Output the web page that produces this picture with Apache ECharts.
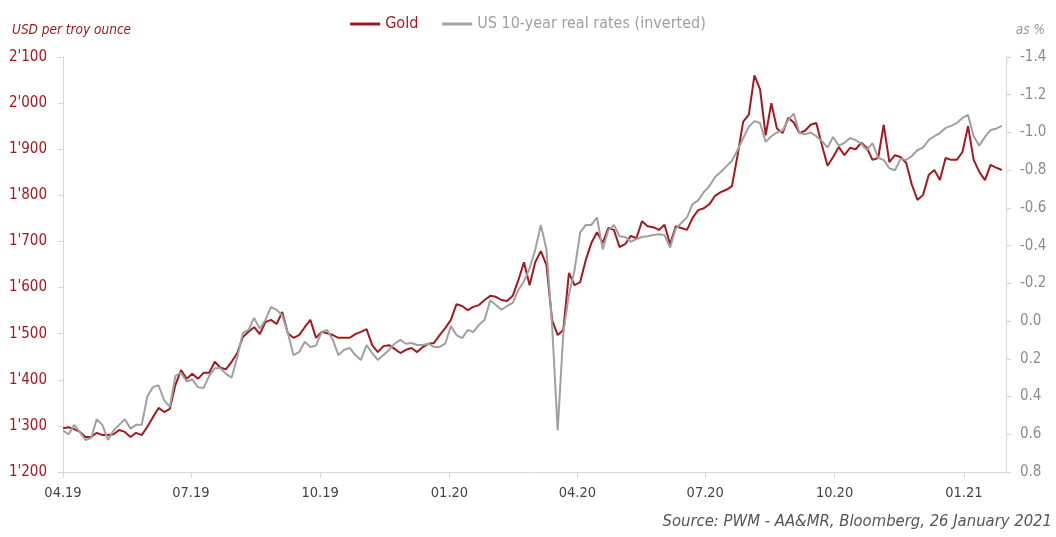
<!DOCTYPE html>
<html>
<head>
<meta charset="utf-8">
<script src="https://cdn.jsdelivr.net/npm/echarts@6/dist/echarts.min.js"></script>
<style>
  html, body { margin: 0; padding: 0; background: #fff; }
  #chart { width: 1056px; height: 537px; }
</style>
</head>
<body>
<div id="chart"></div>
<script>
// readings every 4 days from 1 April 2019
const startDate = [2019, 3, 1]
const stepDays = 4

const gold = [
  1295, 1297, 1293, 1287, 1276, 1276, 1285, 1280, 1280, 1282,
  1291, 1287, 1276, 1285, 1280, 1298, 1319, 1339, 1330, 1337,
  1389, 1421, 1402, 1413, 1402, 1415, 1415, 1439, 1426, 1423,
  1439, 1458, 1493, 1504, 1514, 1499, 1525, 1530, 1521, 1547,
  1501, 1491, 1497, 1514, 1530, 1491, 1504, 1501, 1497, 1491,
  1491, 1491, 1499, 1504, 1510, 1475, 1460, 1473, 1475, 1467,
  1458, 1465, 1469, 1460, 1471, 1478, 1480, 1497, 1512, 1530,
  1564, 1560, 1551, 1558, 1562, 1573, 1582, 1580, 1573, 1571,
  1582, 1616, 1655, 1605, 1655, 1679, 1649, 1530, 1497, 1508,
  1632, 1605, 1612, 1660, 1697, 1720, 1697, 1729, 1725, 1688,
  1694, 1712, 1707, 1744, 1733, 1731, 1725, 1736, 1694, 1733,
  1729, 1725, 1751, 1768, 1772, 1781, 1799, 1807, 1812, 1820,
  1887, 1960, 1975, 2060, 2030, 1930, 2000, 1945, 1935, 1968,
  1958, 1935, 1940, 1953, 1957, 1909, 1864, 1883, 1905, 1887,
  1903, 1900, 1914, 1903, 1877, 1881, 1953, 1872, 1887, 1883,
  1870, 1823, 1790, 1801, 1844, 1855, 1833, 1881, 1877, 1877,
  1894, 1950, 1877, 1851, 1833, 1866, 1860, 1855
]

const realRates = [
  0.58, 0.60, 0.55, 0.59, 0.63, 0.62, 0.52, 0.55, 0.63, 0.58,
  0.55, 0.52, 0.57, 0.55, 0.55, 0.40, 0.35, 0.34, 0.42, 0.455,
  0.29, 0.275, 0.32, 0.31, 0.35, 0.355, 0.29, 0.25, 0.25, 0.28,
  0.30, 0.19, 0.063, 0.047, -0.017, 0.04, -0.006, -0.075, -0.06, -0.03,
  0.063, 0.18, 0.165, 0.11, 0.137, 0.13, 0.058, 0.047, 0.10, 0.18,
  0.153, 0.142, 0.18, 0.206, 0.127, 0.17, 0.206, 0.18, 0.153, 0.12,
  0.10, 0.12, 0.116, 0.127, 0.127, 0.12, 0.137, 0.137, 0.12, 0.026,
  0.074, 0.09, 0.047, 0.058, 0.02, -0.006, -0.11, -0.085, -0.06, -0.08,
  -0.096, -0.165, -0.21, -0.28, -0.377, -0.51, -0.38, 0.02, 0.58, 0.063,
  -0.14, -0.27, -0.47, -0.51, -0.51, -0.55, -0.38, -0.48, -0.51, -0.45,
  -0.446, -0.42, -0.435, -0.446, -0.45, -0.456, -0.46, -0.456, -0.39, -0.49,
  -0.52, -0.55, -0.62, -0.64, -0.684, -0.716, -0.764, -0.79, -0.82, -0.85,
  -0.907, -0.97, -1.03, -1.06, -1.05, -0.95, -0.98, -1.0, -1.01, -1.066,
  -1.10, -0.997, -0.99, -1.0, -0.98, -0.955, -0.92, -0.976, -0.93, -0.944,
  -0.97, -0.96, -0.94, -0.907, -0.944, -0.865, -0.854, -0.81, -0.80, -0.86,
  -0.854, -0.875, -0.907, -0.92, -0.96, -0.98, -0.997, -1.024, -1.035, -1.05,
  -1.077, -1.093, -0.98, -0.93, -0.976, -1.013, -1.02, -1.035
]

const tickMonths = ['2019-04', '2019-07', '2019-10', '2020-01', '2020-04', '2020-07', '2020-10', '2021-01']

const red = '#a3191f'
const grey = '#a0a0a0'
const font = '"Liberation Sans Narrow", "DejaVu Sans Condensed", "Roboto", sans-serif'

const day = 24 * 3600 * 1000
const t0 = new Date(startDate[0], startDate[1], startDate[2]).getTime()
const dates = gold.map((_, i) => t0 + i * stepDays * day)
const tickValues = tickMonths.map(s => {
  const [y, m] = s.split('-').map(Number)
  return new Date(y, m - 1, 1).getTime()
})

const chart = echarts.init(document.getElementById('chart'))

chart.setOption({
  animation: false,
  textStyle: { fontFamily: font },
  grid: { left: 63, right: 50, top: 57, bottom: 65 },
  legend: {
    top: 11,
    left: 'center',
    itemWidth: 30,
    itemHeight: 3,
    itemGap: 24,
    icon: 'rect',
    textStyle: { fontFamily: font, fontSize: 16 },
    data: [
      { name: 'Gold', textStyle: { color: red } },
      { name: 'US 10-year real rates (inverted)', textStyle: { color: grey } }
    ]
  },
  graphic: [
    {
      type: 'text', left: 12, top: 23,
      style: { text: 'USD per troy ounce', fill: red, font: 'italic 13.5px ' + font }
    },
    {
      type: 'text', right: 11, top: 23,
      style: { text: 'as %', fill: '#999', font: 'italic 13.5px ' + font }
    },
    {
      type: 'text', right: 4, top: 513,
      style: { text: 'Source: PWM - AA&MR, Bloomberg, 26 January 2021', fill: '#555', font: 'italic 16.5px ' + font }
    }
  ],
  xAxis: {
    type: 'value',
    min: t0,
    max: new Date(2021, 0, 31).getTime(),
    axisLine: { onZero: false, lineStyle: { color: '#d6d6d6', width: 1 } },
    axisTick: {
      show: true,
      customValues: tickValues,
      length: 6,
      lineStyle: { color: '#d6d6d6' }
    },
    axisLabel: {
      customValues: tickValues,
      color: '#444',
      fontSize: 14.5,
      margin: 14,
      formatter: v => {
        const d = new Date(v)
        const m = String(d.getMonth() + 1).padStart(2, '0')
        const y = String(d.getFullYear()).slice(2)
        return m + '.' + y
      }
    },
    splitLine: { show: false }
  },
  yAxis: [
    {
      type: 'value',
      min: 1200,
      max: 2100,
      interval: 100,
      axisLine: { show: true, onZero: false, lineStyle: { color: '#d6d6d6' } },
      axisTick: { show: true, length: 5, lineStyle: { color: '#d6d6d6' } },
      axisLabel: {
        color: red,
        fontSize: 15,
        margin: 16,
        formatter: v => String(v).replace(/(\d)(\d{3})$/, "$1'$2")
      },
      splitLine: { show: false }
    },
    {
      type: 'value',
      min: -1.4,
      max: 0.8,
      interval: 0.2,
      inverse: true,
      position: 'right',
      axisLine: { show: true, onZero: false, lineStyle: { color: '#d6d6d6' } },
      axisTick: { show: true, length: 5, lineStyle: { color: '#d6d6d6' } },
      axisLabel: {
        color: '#8c8c8c',
        fontSize: 15,
        margin: 14,
        formatter: v => (Math.abs(v) < 1e-9 ? 0 : v).toFixed(1)
      },
      splitLine: { show: false }
    }
  ],
  series: [
    {
      name: 'Gold',
      type: 'line',
      yAxisIndex: 0,
      showSymbol: false,
      lineStyle: { color: red, width: 2 },
      itemStyle: { color: red },
      data: dates.map((d, i) => [d, gold[i]])
    },
    {
      name: 'US 10-year real rates (inverted)',
      type: 'line',
      yAxisIndex: 1,
      showSymbol: false,
      lineStyle: { color: grey, width: 2 },
      itemStyle: { color: grey },
      data: dates.map((d, i) => [d, realRates[i]])
    }
  ]
})
</script>
</body>
</html>
